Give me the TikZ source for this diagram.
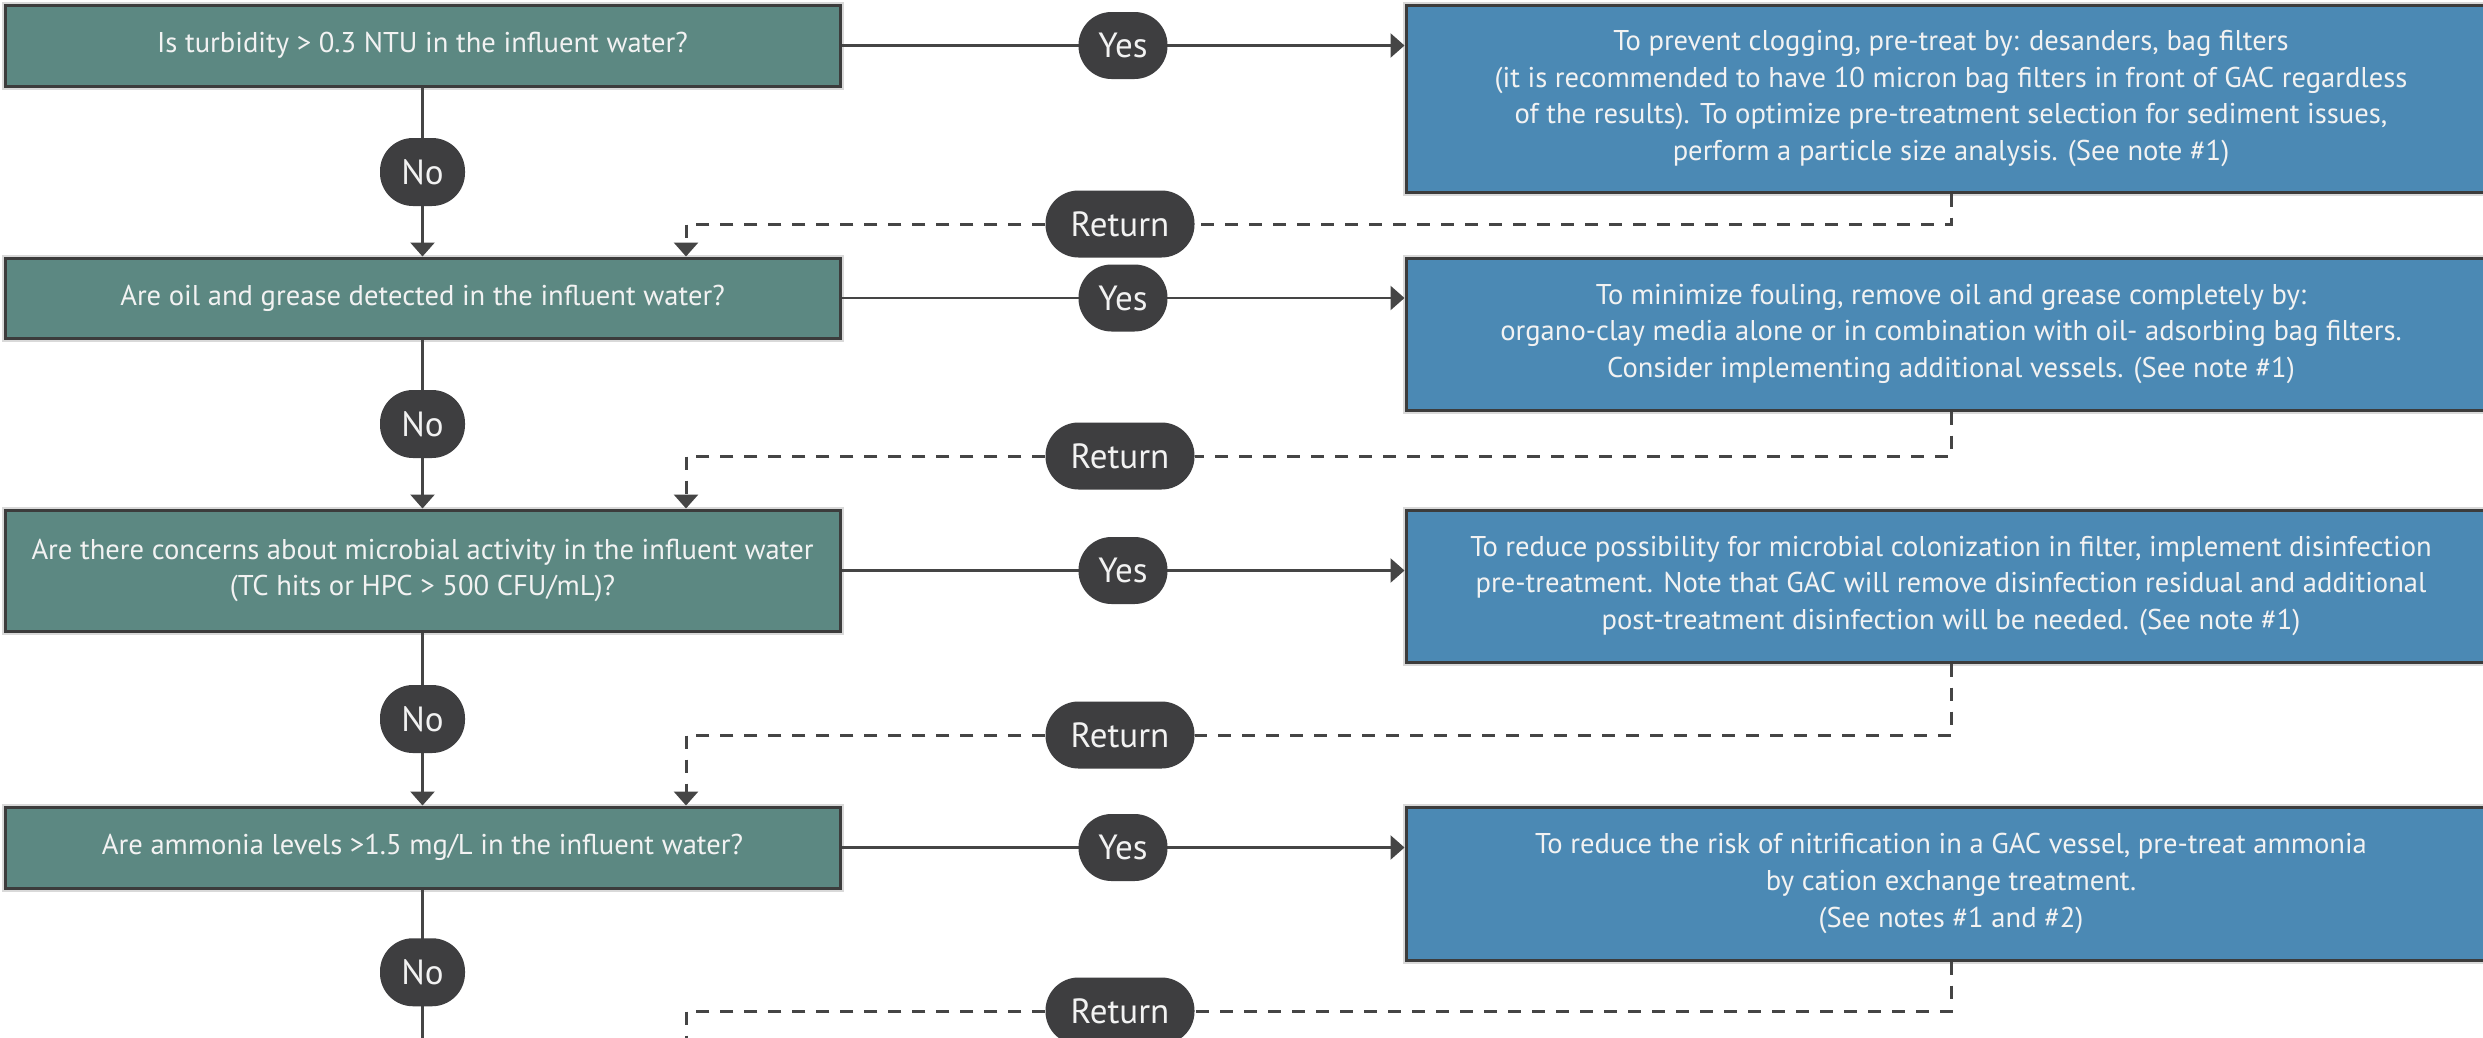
\documentclass[tikz,border=0pt]{standalone}
\usepackage{fontspec}
\setmainfont{PT Sans}
\usetikzlibrary{arrows.meta}
\definecolor{qgreen}{HTML}{5C8882}
\definecolor{ablue}{HTML}{4B89B4}
\definecolor{pillc}{HTML}{3E3E40}
\definecolor{linec}{HTML}{454545}
\definecolor{bordc}{HTML}{3C3C3C}
\definecolor{txtc}{HTML}{F2F2F2}
\begin{document}
\begin{tikzpicture}[x=1pt,y=-1pt,
  boxbase/.style={draw=bordc, line width=3pt, inner sep=0pt, align=center,
    text=txtc, font=\fontsize{28.6}{36.7}\selectfont,
    preaction={draw=black!15, line width=7pt}},
  qbox/.style={boxbase, fill=qgreen, minimum width=835pt},
  abox/.style={boxbase, fill=ablue, minimum width=1090pt},
  pill/.style={fill=pillc, text=txtc, inner sep=0pt, minimum height=67pt,
    rounded corners=33pt, font=\fontsize{35}{40}\selectfont},
  conn/.style={draw=linec, line width=2.6pt},
  tipc/.style={-{Triangle[width=24pt,length=14pt]}},
  arr/.style={conn, tipc},
  darr/.style={conn, line width=3pt, dash pattern=on 13pt off 11pt},
]
\useasboundingbox (0,0) rectangle (2483,1037);
\clip (0,0) rectangle (2483,1037);
\fill[white] (0,0) rectangle (2483,1037);

% question boxes
\node[qbox, minimum height=81pt] (q1) at (422.5,45.5) {Is turbidity > 0.3 NTU in the influent water?};
\node[qbox, minimum height=80pt] (q2) at (422.5,298) {Are oil and grease detected in the influent water?};
\node[qbox, minimum height=121pt] (q3) at (422.5,570.5) {Are there concerns about microbial activity in the influent water\\(TC hits or HPC > 500 CFU/mL)?};
\node[qbox, minimum height=81pt] (q4) at (422.5,847.5) {Are ammonia levels >1.5 mg/L in the influent water?};

% action boxes
\node[abox, minimum height=187pt] (a1) at (1951,98.5) {To prevent clogging, pre-treat by: desanders, bag filters\\(it is recommended to have 10 micron bag filters in front of GAC regardless\\of the results). To optimize pre-treatment selection for sediment issues,\\perform a particle size analysis. (See note \#1)};
\node[abox, minimum height=152pt] (a2) at (1951,334) {To minimize fouling, remove oil and grease completely by:\\organo-clay media alone or in combination with oil- adsorbing bag filters.\\Consider implementing additional vessels. (See note \#1)};
\node[abox, minimum height=152pt] (a3) at (1951,586) {To reduce possibility for microbial colonization in filter, implement disinfection\\pre-treatment. Note that GAC will remove disinfection residual and additional\\post-treatment disinfection will be needed. (See note \#1)};
\node[abox, minimum height=153pt] (a4) at (1951,883.5) {To reduce the risk of nitrification in a GAC vessel, pre-treat ammonia\\by cation exchange treatment.\\(See notes \#1 and \#2)};

% return pills
\node[pill, minimum width=149pt] (r1) at (1120,224) {Return};
\node[pill, minimum width=149pt] (r2) at (1120,456) {Return};
\node[pill, minimum width=149pt] (r3) at (1120,735) {Return};
\node[pill, minimum width=149pt] (r4) at (1120,1011) {Return};

% free ends
\coordinate (q2in) at ([xshift=263.5pt]q2.north);
\coordinate (q3in) at ([xshift=263.5pt]q3.north);
\coordinate (q4in) at ([xshift=263.5pt]q4.north);
\coordinate (q5in) at (686,1060);
\coordinate (q5top) at (422.5,1055);

% yes connectors
\draw[arr] (q1.east) -- node[pill, minimum width=89pt] (y1) {Yes} (q1.east -| a1.west);
\draw[arr] (q2.east) -- node[pill, minimum width=89pt] (y2) {Yes} (q2.east -| a2.west);
\draw[arr] (q3.east) -- node[pill, minimum width=89pt] (y3) {Yes} (q3.east -| a3.west);
\draw[arr] (q4.east) -- node[pill, minimum width=89pt] (y4) {Yes} (q4.east -| a4.west);

% no connectors
\draw[arr] (q1.south) -- node[pill, minimum width=85pt, minimum height=68pt] (n1) {No} (q2.north);
\draw[arr] (q2.south) -- node[pill, minimum width=85pt, minimum height=68pt] (n2) {No} (q3.north);
\draw[arr] (q3.south) -- node[pill, minimum width=85pt, minimum height=68pt] (n3) {No} (q4.north);
\draw[conn] (q4.south) -- node[pill, minimum width=85pt, minimum height=68pt] (n4) {No} (q5top);

% return connectors
\draw[darr] (a1.south) |- (r1.east);
\draw[darr, tipc] (r1.west) -| (q2in);
\draw[darr] (a2.south) |- (r2.east);
\draw[darr, tipc] (r2.west) -| (q3in);
\draw[darr] (a3.south) |- (r3.east);
\draw[darr, tipc] (r3.west) -| (q4in);
\draw[darr] (a4.south) |- (r4.east);
\draw[darr] (r4.west) -| (q5in);
\end{tikzpicture}
\end{document}
